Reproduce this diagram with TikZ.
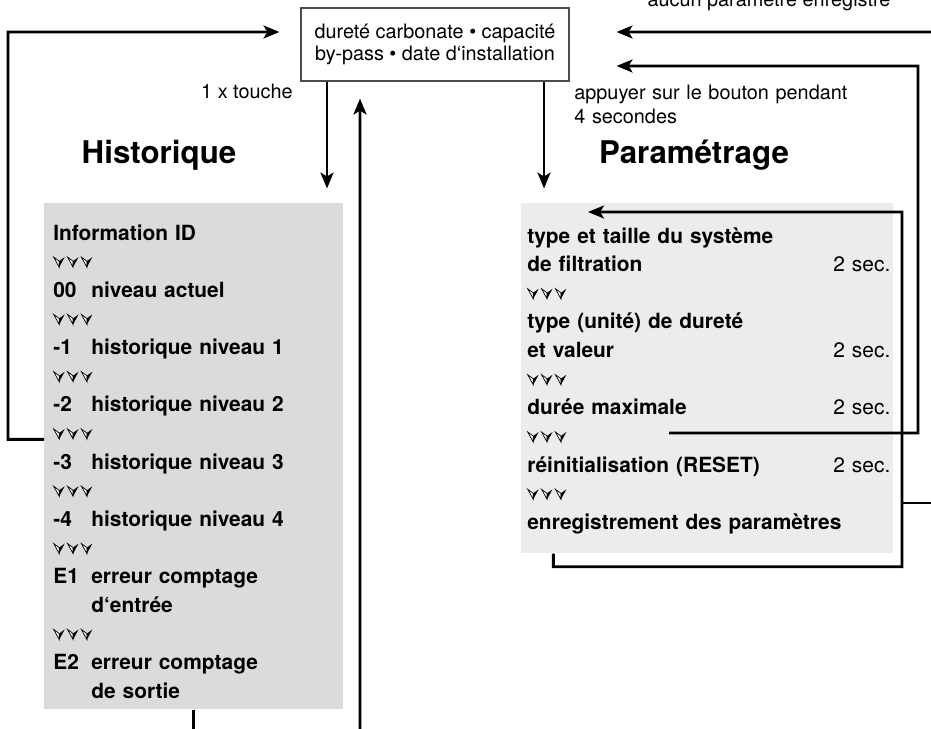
\documentclass[tikz,border=0pt]{standalone}
\usepackage{fontspec}
\setmainfont{TeX Gyre Heros}
\usepackage{xcolor}
\usepackage{tikz}
\usetikzlibrary{arrows.meta, positioning, calc}

\definecolor{grisH}{RGB}{218,219,219}
\definecolor{grisP}{RGB}{236,236,236}

% petite pointe 3D (moitie claire, moitie noire)
\newcommand{\pointe}{\tikz[baseline=-0.03cm, x=1cm, y=1cm, line width=0.4pt]{%
    \filldraw[fill=white] (0,0) -- (-0.11,0.2) -- (0,0.12) -- cycle;
    \fill (0,0) -- (0.11,0.2) -- (0,0.12) -- cycle;}}
\newcommand{\fleches}{\pointe\hspace{0.05cm}\pointe\hspace{0.05cm}\pointe}
\newcommand{\num}[1]{\makebox[0.76cm][l]{#1}}

\begin{document}
\begin{tikzpicture}[
    font=\fontsize{11.3}{13}\selectfont,
    fleche/.style={-{Stealth[length=3.2mm, width=2.6mm, inset=0.8mm]}, line width=1.6pt},
    trait/.style={line width=1.6pt},
    cadre/.style={draw=black!70, line width=0.6pt, minimum width=5.36cm,
                  minimum height=1.46cm, align=center},
    fond/.style={anchor=north west, inner sep=0pt},
    liste/.style={anchor=base west, inner sep=0pt, align=left,
                  font=\fontsize{11.9}{16.3}\selectfont\bfseries},
    titre/.style={anchor=base, inner sep=0pt, font=\fontsize{17.8}{20}\selectfont\bfseries},
    note/.style={inner sep=0pt, align=left}
  ]
    \useasboundingbox (0,0) rectangle (18.62,-14.58);

    \node[cadre] (infos) at (8.70,-0.89)
      {dureté carbonate • capacité\\by-pass • date d‘installation};
    \node[fond, fill=grisH, minimum width=5.98cm, minimum height=10.12cm] (histo) at (0.88,-4.06) {};
    \node[fond, fill=grisP, minimum width=7.44cm, minimum height=7.00cm] (param) at (10.42,-4.06) {};

    \node[titre] (titreH) at (3.18,-3.27) {Historique};
    \node[titre] (titreP) at (13.88,-3.27) {Paramétrage};

    \node[note, anchor=base east] (touche) at (5.86,-1.96) {1 x touche};
    \node[note, anchor=base west, text width=6cm, font=\fontsize{11.3}{14.2}\selectfont] (appui)
      at (11.48,-1.98) {appuyer sur le bouton pendant\\4 secondes};
    \node[note, anchor=base] (aucun) at (15.38,-0.13) {aucun paramètre enregistré};

    \node[liste, text width=5.7cm] (listeH) at (1.06,-4.80)
      {Information ID\\ \fleches\\
       \num{00}niveau actuel\\ \fleches\\
       \num{-1}historique niveau 1\\ \fleches\\
       \num{-2}historique niveau 2\\ \fleches\\
       \num{-3}historique niveau 3\\ \fleches\\
       \num{-4}historique niveau 4\\ \fleches\\
       \num{E1}erreur comptage\\ \num{}d‘entrée\\ \fleches\\
       \num{E2}erreur comptage\\ \num{}de sortie};
    \node[liste, text width=7.26cm] (listeP) at (10.54,-4.86)
      {type et taille du système\\
       de filtration\hskip 0pt plus 1filll{\mdseries 2 sec.}\\ \fleches\\
       type (unité) de dureté\\
       et valeur\hskip 0pt plus 1filll{\mdseries 2 sec.}\\ \fleches\\
       durée maximale\hskip 0pt plus 1filll{\mdseries 2 sec.}\\ \fleches\\
       réinitialisation (RESET)\hskip 0pt plus 1filll{\mdseries 2 sec.}\\ \fleches\\
       enregistrement des paramètres};

    % extremites libres
    \coordinate (bordA) at (18.70,-0.64);
    \coordinate (bordB) at (18.70,-10.06);
    \coordinate (bas) at (7.20,-14.70);
    \coordinate (duree) at (13.38,-8.66);

    \draw[fleche] ([yshift=0.34cm]histo.west) -| (0.16,-0.64)
      -- ([xshift=-0.42cm, yshift=0.25cm]infos.west);
    \draw[fleche] (bordA) -- ([xshift=0.94cm, yshift=0.25cm]infos.east);
    \draw[fleche] (duree) -| (18.36,-1.32) -- ([xshift=0.94cm, yshift=-0.43cm]infos.east);
    \draw[fleche] ([xshift=-3.08cm]param.south) -- ++(0,-0.26) -| (18.04,-4.24)
      -- ([xshift=1.34cm, yshift=-0.18cm]param.north west);
    \draw[trait] (18.04,-10.06) -- (bordB);
    \draw[fleche] ([xshift=-2.16cm]infos.south) -- ++(0,-2.14);
    \draw[fleche] ([xshift=2.18cm]infos.south) -- ++(0,-2.14);
    \draw[fleche] (bas) -- ([xshift=-1.5cm, yshift=-0.34cm]infos.south);
    \draw[trait] (histo.south) -- ++(0,-0.5);
  \end{tikzpicture}
\end{document}
